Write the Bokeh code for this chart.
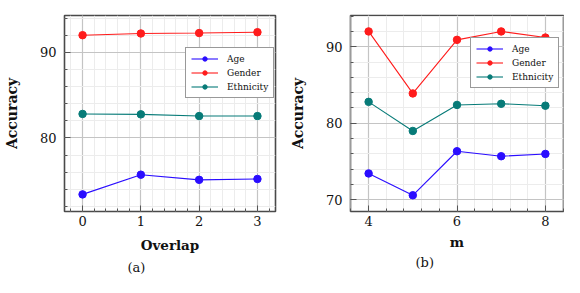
from bokeh.plotting import figure
from bokeh.layouts import row
from bokeh.models import FixedTicker, Range1d, Legend, LegendItem, Title
from bokeh.embed import file_html
from bokeh.resources import INLINE

# (a) Overlap
overlap = [0, 1, 2, 3]
age_a = [73.4, 75.7, 75.1, 75.2]
gender_a = [92.0, 92.2, 92.25, 92.35]
eth_a = [82.8, 82.75, 82.55, 82.55]

# (b) m
m_vals = [4, 5, 6, 7, 8]
age_b = [73.45, 70.6, 76.35, 75.7, 76.0]
gender_b = [92.0, 83.9, 90.9, 92.0, 91.2]
eth_b = [82.8, 79.0, 82.4, 82.55, 82.3]

series_names = ["Age", "Gender", "Ethnicity"]
colors = ["#2a0dff", "#ff1c1c", "#077b78"]

SERIF = "DejaVu Serif"
H = 276


def make_fig(x, ys, xr, yr, xt, xminor, yt, yminor, xlabel, caption, cap_offset,
             borders, width, legend_loc, xlab_standoff, cap_standoff):
    p = figure(width=width, height=H, output_backend="svg", toolbar_location=None,
               x_range=Range1d(*xr), y_range=Range1d(*yr),
               min_border_left=borders[0], min_border_right=borders[1],
               min_border_top=borders[2], min_border_bottom=borders[3])
    p.background_fill_color = "white"
    p.border_fill_color = "white"
    p.outline_line_color = "#4a4a4a"
    p.outline_line_width = 1.6

    p.xaxis.ticker = FixedTicker(ticks=xt, minor_ticks=xminor)
    p.yaxis.ticker = FixedTicker(ticks=yt, minor_ticks=yminor)
    for ax in (p.xaxis[0], p.yaxis[0]):
        ax.axis_line_color = None
        ax.major_tick_in = 6
        ax.major_tick_out = 0
        ax.minor_tick_in = 3
        ax.minor_tick_out = 0
        ax.major_tick_line_color = "#555555"
        ax.minor_tick_line_color = "#555555"
        ax.major_label_text_font = SERIF
        ax.major_label_text_font_size = "13px"
        ax.major_label_text_color = "#111111"
        ax.axis_label_text_font = SERIF
        ax.axis_label_text_font_style = "bold"
        ax.axis_label_text_font_size = "13.5px"
        ax.axis_label_text_color = "#111111"
    p.xaxis.axis_label = xlabel
    p.yaxis.axis_label = "Accuracy"
    p.yaxis.axis_label_text_font_size = "14px"
    p.xaxis.major_label_standoff = 4
    p.xaxis.axis_label_standoff = xlab_standoff
    p.yaxis.major_label_standoff = 8
    p.yaxis.axis_label_standoff = 17

    for g in (p.xgrid[0], p.ygrid[0]):
        g.grid_line_color = "#c4c4c4"
        g.grid_line_width = 1.2
        g.minor_grid_line_color = "#ececec"
        g.minor_grid_line_width = 1

    items = []
    for name, yv, c in zip(series_names, ys, colors):
        l = p.line(x, yv, line_color=c, line_width=1.1)
        s = p.scatter(x, yv, size=7.5, fill_color=c, line_color=c)
        items.append(LegendItem(label=name, renderers=[l, s]))

    leg = Legend(items=items, location=legend_loc)
    leg.label_text_font = SERIF
    leg.label_text_font_size = "9px"
    leg.label_text_color = "#111111"
    leg.glyph_width = 27
    leg.glyph_height = 11
    leg.label_height = 11
    leg.label_standoff = 9
    leg.spacing = 3
    leg.padding = 5
    leg.margin = 0
    leg.border_line_color = "#333333"
    leg.border_line_width = 1.5
    leg.background_fill_alpha = 1
    p.add_layout(leg, "center")

    cap = Title(text=caption, align="left", offset=cap_offset, standoff=cap_standoff,
                text_font=SERIF, text_font_size="13px", text_font_style="normal",
                text_color="#111111")
    p.add_layout(cap, "below")
    return p


p1 = make_fig(overlap, [age_a, gender_a, eth_a], (-0.31, 3.31), (71.4, 94.3),
              [0, 1, 2, 3], [round(-0.2 + 0.2 * i, 2) for i in range(18)],
              [80, 90], list(range(72, 95, 2)), "Overlap", "(a)", 63,
              (60, 6, 7, 65), 281, (121, 113), 8, 4)
p2 = make_fig(m_vals, [age_b, gender_b, eth_b], (3.59, 8.41), (68.48, 94.08),
              [4, 6, 8], [round(3.6 + 0.4 * i, 2) for i in range(13)],
              [70, 80, 90], list(range(70, 95, 2)), "m", "(b)", 65,
              (69, 1, 15, 59), 283, (120, 123), 5, 1)

layout = row(p1, p2)
open("out.html", "w").write(file_html(layout, INLINE))
